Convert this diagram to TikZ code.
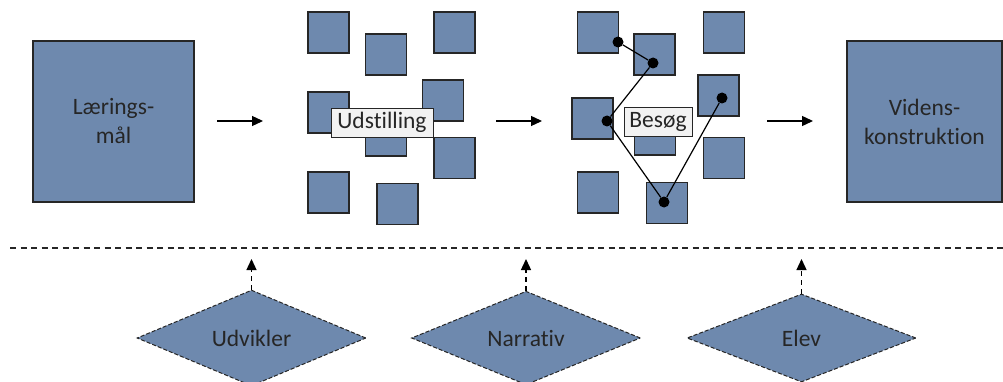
\documentclass[tikz,border=0pt]{standalone}
\usepackage{fontspec}
\setmainfont{Carlito}[Ligatures={NoCommon}]
\usetikzlibrary{arrows.meta,shapes.geometric}
\definecolor{boxblue}{RGB}{110,137,174}
\definecolor{edge}{RGB}{38,38,38}
\definecolor{labelgray}{RGB}{242,242,242}
\begin{document}
\begin{tikzpicture}[x=1pt,y=-1pt,
  every node/.style={font=\fontsize{23.5}{29}\selectfont, text=edge},
  bigbox/.style={draw=edge, line width=1.1pt, fill=boxblue, minimum width=161pt, minimum height=161pt, inner sep=0pt, align=center},
  smallbox/.style={draw=edge, line width=1.1pt, fill=boxblue, minimum size=41pt, inner sep=0pt},
  tag/.style={draw=edge, line width=0.8pt, fill=labelgray, minimum height=29pt, inner sep=1pt},
  dot/.style={circle, fill=black, minimum size=11pt, inner sep=0pt},
  visit/.style={draw=black, line width=1.2pt},
  flow/.style={draw=black, line width=1.3pt, -{Triangle[length=11pt,width=10pt]}},
  role/.style={diamond, draw=edge, line width=1pt, dash pattern=on 4pt off 2pt, fill=boxblue, minimum width=229pt, minimum height=88pt, inner sep=0pt},
  influence/.style={draw=black, line width=1.3pt, dash pattern=on 5pt off 4pt, -{Triangle[length=11pt,width=10pt]}},
  divider/.style={draw=edge, line width=1.2pt, dash pattern=on 6pt off 4.5pt}]
\useasboundingbox (0,0) rectangle (1003,382);

% big boxes
\node[bigbox] (lm) at (113.5,121.5) {Lærings-\\mål};
\node[bigbox, minimum width=155pt] (vk) at (924.5,121.5) {Videns-\\konstruktion};

% exhibition squares
\node[smallbox] (s1) at (328.5,32.5) {};
\node[smallbox] (s2) at (386,54.5) {};
\node[smallbox] (s3) at (454.5,32.5) {};
\node[smallbox] (s4) at (328.5,112.5) {};
\node[smallbox] (s5) at (443,100.5) {};
\node[smallbox] (s6) at (386,135.5) {};
\node[smallbox] (s7) at (454.5,158) {};
\node[smallbox] (s8) at (328.5,192.5) {};
\node[smallbox] (s9) at (397.5,204) {};
\node[tag, minimum width=102pt] (ud) at (382,122.5) {Udstilling};

% visit squares
\node[smallbox] (t1) at (598,32.5) {};
\node[smallbox] (t2) at (654.5,54.5) {};
\node[smallbox] (t3) at (724,32.5) {};
\node[smallbox] (t4) at (592.5,118.5) {};
\node[smallbox] (t5) at (718.5,95.5) {};
\node[smallbox] (t6) at (655,134.5) {};
\node[smallbox] (t7) at (724,158) {};
\node[smallbox] (t8) at (598,192.5) {};
\node[smallbox] (t9) at (667,203) {};
\node[tag, minimum width=68pt] (be) at (658,121.5) {Besøg};

% visit path
\node[dot] (d1) at (618,42) {};
\node[dot] (d2) at (653,63) {};
\node[dot] (d3) at (607,121) {};
\node[dot] (d4) at (664,202) {};
\node[dot] (d5) at (722,98) {};
\draw[visit] (d1) -- (d2) -- (d3) -- (d4) -- (d5);

% flow arrows
\coordinate (a1s) at (217,121); \coordinate (a1e) at (263,121);
\coordinate (a2s) at (496,121); \coordinate (a2e) at (542,121);
\coordinate (a3s) at (767,121); \coordinate (a3e) at (813,121);
\draw[flow] (a1s) -- (a1e);
\draw[flow] (a2s) -- (a2e);
\draw[flow] (a3s) -- (a3e);

% divider
\coordinate (dl) at (10,248); \coordinate (dr) at (1003,248);
\draw[divider] (dl) -- (dr);

% roles
\node[role] (ud2) at (251.5,338) {Udvikler};
\node[role] (na) at (526,338) {Narrativ};
\node[role] (el) at (801.5,338) {Elev};
\coordinate (p1) at (251.5,259);
\coordinate (p2) at (526,259);
\coordinate (p3) at (801.5,259);
\draw[influence] (ud2.north) -- (p1);
\draw[influence] (na.north) -- (p2);
\draw[influence] (el.north) -- (p3);
\end{tikzpicture}
\end{document}
